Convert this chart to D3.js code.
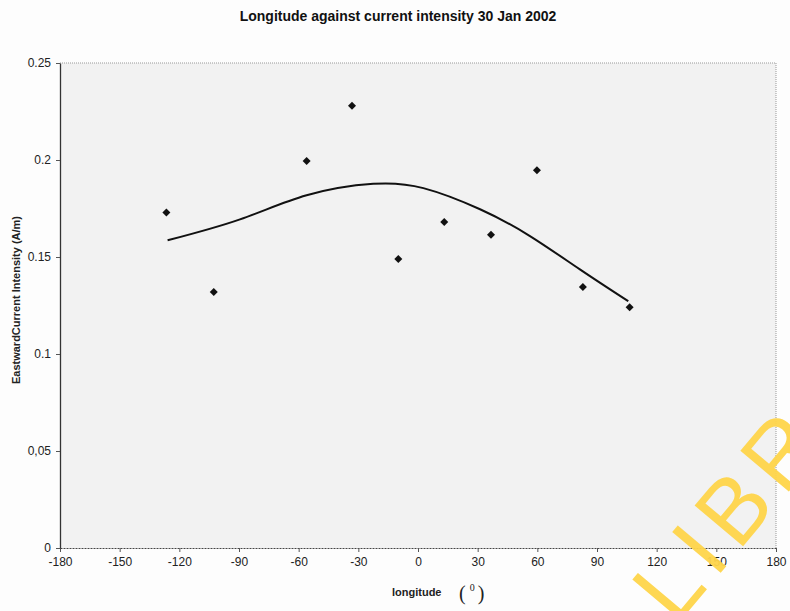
<!DOCTYPE html>
<html>
<head>
<meta charset="utf-8">
<script src="https://cdn.jsdelivr.net/npm/d3@7"></script>
<style>
  body { margin: 0; background: #fdfdfd; }
  svg { display: block; font-family: "Liberation Sans", Arial, sans-serif; }
</style>
</head>
<body>
<svg id="chart"></svg>
<script>
// Measured points (longitude in degrees, eastward current intensity in A/m)
const longitudes = [-126.5, -102.7, -56.0, -33.2, -9.9, 13.2, 36.7, 59.8, 82.9, 106.4];
const intensities = [0.173, 0.132, 0.1995, 0.228, 0.149, 0.168, 0.1615, 0.1947, 0.1345, 0.1241];

// Trendline as drawn in the original
const trendLon = [-125.9, -89.5, -56.0, -22.5, 2.7, 31.2, 56.3, 81.4, 105.7];
const trendVal = [0.1586, 0.1694, 0.1818, 0.1877, 0.1855, 0.1746, 0.1608, 0.1436, 0.1272];

// Axis ticks
const xTicks = [-180, -150, -120, -90, -60, -30, 0, 30, 60, 90, 120, 150, 180];
const yTicks = [0, 0.05, 0.1, 0.15, 0.2, 0.25];
const yTickLabels = ["0", "0,05", "0.1", "0.15", "0.2", "0.25"];

const width = 790;
const height = 611;
const margin = { top: 63, right: 14, bottom: 63, left: 60 };

const svg = d3.select("#chart")
    .attr("width", width)
    .attr("height", height);

const x = d3.scaleLinear()
    .domain([-180, 180])
    .range([margin.left, width - margin.right]);

const y = d3.scaleLinear()
    .domain([0, 0.25])
    .range([height - margin.bottom, margin.top]);

// Plot area background
svg.append("rect")
    .attr("x", x(-180))
    .attr("y", y(0.25))
    .attr("width", x(180) - x(-180))
    .attr("height", y(0) - y(0.25))
    .attr("fill", "#f2f2f2");

// Dotted frame on top and right
svg.append("path")
    .attr("d", `M${x(-180)},${y(0.25)}H${x(180)}V${y(0)}`)
    .attr("fill", "none")
    .attr("stroke", "#999")
    .attr("stroke-dasharray", "1,1");

// X axis
const xAxis = svg.append("g")
    .attr("transform", `translate(0,${y(0)})`)
    .call(d3.axisBottom(x).tickValues(xTicks).tickSize(4).tickSizeOuter(0)
        .tickFormat(d => String(d)));
xAxis.select(".domain").attr("stroke", "#444").attr("stroke-dasharray", "2,1");
xAxis.selectAll(".tick line").attr("stroke", "#555");
xAxis.selectAll(".tick text")
    .attr("font-family", "Liberation Sans, Arial, sans-serif")
    .attr("font-size", 12)
    .attr("fill", "#222")
    .attr("dy", "0.95em");

// Y axis
const yAxis = svg.append("g")
    .attr("transform", `translate(${x(-180)},0)`)
    .call(d3.axisLeft(y).tickValues(yTicks).tickSize(4).tickSizeOuter(0)
        .tickFormat((d, i) => yTickLabels[i]));
yAxis.select(".domain").attr("stroke", "#333").attr("stroke-width", 1.3);
yAxis.selectAll(".tick line").attr("stroke", "#555");
yAxis.selectAll(".tick text")
    .attr("font-family", "Liberation Sans, Arial, sans-serif")
    .attr("font-size", 12)
    .attr("fill", "#222")
    .attr("x", -9);

// Trendline
const trend = d3.line()
    .x(d => x(d[0]))
    .y(d => y(d[1]))
    .curve(d3.curveNatural);

svg.append("path")
    .datum(d3.zip(trendLon, trendVal))
    .attr("d", trend)
    .attr("fill", "none")
    .attr("stroke", "#111")
    .attr("stroke-width", 2);

// Scatter points as small diamonds
svg.selectAll(".pt")
    .data(d3.zip(longitudes, intensities))
    .enter()
    .append("path")
    .attr("class", "pt")
    .attr("d", "M0,-4L4,0L0,4L-4,0Z")
    .attr("transform", d => `translate(${x(d[0])},${y(d[1])})`)
    .attr("fill", "#111");

// Title
svg.append("text")
    .attr("x", 398)
    .attr("y", 21)
    .attr("text-anchor", "middle")
    .attr("font-size", 14)
    .attr("font-weight", "bold")
    .attr("fill", "#111")
    .text("Longitude against current intensity 30 Jan 2002");

// Y axis title
svg.append("text")
    .attr("transform", "translate(20,300) rotate(-90)")
    .attr("text-anchor", "middle")
    .attr("font-size", 11)
    .attr("font-weight", "bold")
    .attr("fill", "#222")
    .text("EastwardCurrent Intensity (A/m)");

// X axis title
svg.append("text")
    .attr("x", 392)
    .attr("y", 596)
    .attr("font-size", 11)
    .attr("font-weight", "bold")
    .attr("fill", "#222")
    .text("longitude");

const unit = svg.append("text")
    .attr("x", 459)
    .attr("y", 600)
    .attr("font-family", "Liberation Serif, Times New Roman, serif")
    .attr("font-size", 20)
    .attr("fill", "#222");
unit.append("tspan").text("(");
unit.append("tspan").attr("font-size", 10).attr("dx", 4).attr("dy", -9).text("0");
unit.append("tspan").attr("dx", 3).attr("dy", 9).text(")");

// Library watermark (runs off the page edge as in the scan)
svg.append("text")
    .attr("transform", "translate(676,626) rotate(-50)")
    .attr("font-size", 92)
    .attr("letter-spacing", 10)
    .attr("fill", "#ffd54a")
    .attr("opacity", 0.95)
    .text("LIBR");
</script>
</body>
</html>
